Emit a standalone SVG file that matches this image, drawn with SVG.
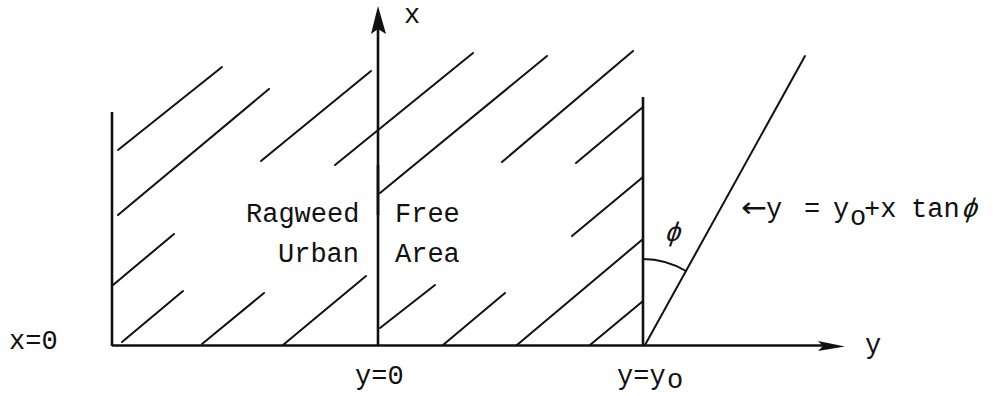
<svg xmlns="http://www.w3.org/2000/svg" width="993" height="396" viewBox="0 0 993 396">
<style>
.t{font-family:"Liberation Mono","DejaVu Sans Mono",monospace;font-size:27px;fill:#111}
.h{stroke:#111;stroke-width:2;stroke-linecap:round;fill:none}
.ax{stroke:#111;stroke-width:2.6;fill:none}
</style>
<rect width="993" height="396" fill="#fff"/>
<g id="hatching">
<line class="h" x1="118" y1="150" x2="222" y2="67"/>
<line class="h" x1="118" y1="215" x2="269" y2="89"/>
<line class="h" x1="261" y1="161" x2="371" y2="71"/>
<line class="h" x1="335" y1="165" x2="473" y2="53"/>
<line class="h" x1="113" y1="285" x2="174" y2="234"/>
<line class="h" x1="122" y1="342" x2="183" y2="291"/>
<line class="h" x1="202" y1="344" x2="264" y2="293"/>
<line class="h" x1="283" y1="345" x2="366" y2="276"/>
<line class="h" x1="380" y1="193" x2="547" y2="56"/>
<line class="h" x1="502" y1="162" x2="633" y2="51"/>
<line class="h" x1="576" y1="163" x2="643" y2="107"/>
<line class="h" x1="572" y1="236" x2="643" y2="177"/>
<line class="h" x1="517" y1="345" x2="643" y2="239"/>
<line class="h" x1="590" y1="345" x2="643" y2="301"/>
<line class="h" x1="380" y1="328" x2="435" y2="285"/>
<line class="h" x1="443" y1="345" x2="505" y2="293"/>
</g>
<g id="boundaries">
<line class="ax" x1="112" y1="112" x2="112" y2="346"/>
<line class="ax" x1="643" y1="97" x2="643" y2="345"/>
<line class="h" x1="645" y1="345" x2="805" y2="56"/>
<path class="h" d="M643,259 A86,86 0 0 1 686,271"/>
</g>
<g id="axes">
<line class="ax" x1="112" y1="345.5" x2="824" y2="345.5"/>
<path d="M818,341 L845,346.5 L818,351 L823,346 Z" fill="#111"/>
<line class="ax" x1="378" y1="28" x2="378" y2="345" stroke-width="3"/>
<line class="ax" x1="378" y1="165" x2="378" y2="215" stroke-width="4.5"/>
<path d="M378,6 L386,34 L378,29 L371,34 Z" fill="#111"/>
</g>
<g id="labels">
<text class="t" x="404" y="23">x</text>
<text class="t" x="865" y="353">y</text>
<text class="t" x="9" y="349">x=0</text>
<text class="t" x="355" y="384">y=0</text>
<text class="t" x="617" y="384">y=y</text>
<text class="t" x="667" y="388" font-size="23">o</text>
<text class="t" x="246" y="222">Ragweed</text>
<text class="t" x="278" y="262">Urban</text>
<text class="t" x="395" y="222">Free</text>
<text class="t" x="395" y="262">Area</text>
<text class="t" x="664" y="241" font-size="30" transform="skewX(-18) translate(78,0)">ϕ</text>
<text x="741" y="217" font-family="DejaVu Sans, sans-serif" font-size="28" fill="#111" textLength="26" lengthAdjust="spacingAndGlyphs">←</text>
<text class="t" x="766" y="217">y<tspan x="804">=</tspan><tspan x="833">y</tspan></text>
<text class="t" x="850" y="225" font-size="22">o</text>
<text class="t" x="864" y="217">+x<tspan x="911">tan</tspan></text>
<text class="t" x="961" y="217" font-size="30" transform="skewX(-18) translate(70,0)">ϕ</text>
</g>
</svg>
